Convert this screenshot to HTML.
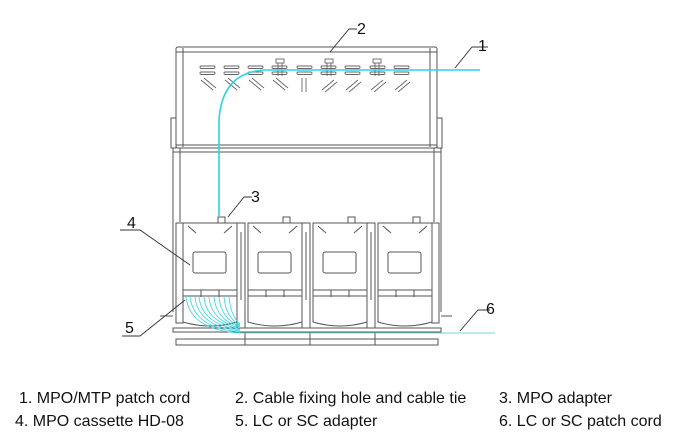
<!DOCTYPE html>
<html><head><meta charset="utf-8"><style>
html,body{margin:0;padding:0;background:#fff;}
svg{display:block}
text{font-family:"Liberation Sans",Arial,sans-serif;fill:#111}
</style></head><body>
<svg width="674" height="437" viewBox="0 0 674 437" xmlns="http://www.w3.org/2000/svg">
<g fill="none" stroke="#555" stroke-width="1">
<rect x="176" y="47" width="261" height="101" rx="2"/>
<line x1="183" y1="48" x2="183" y2="147"/>
<line x1="430" y1="48" x2="430" y2="147"/>
<line x1="176" y1="52" x2="437" y2="52"/>
<line x1="176" y1="145" x2="437" y2="145"/>
<rect x="171" y="118" width="5" height="30"/>
<rect x="437" y="118" width="5" height="30"/>
<line x1="173" y1="148" x2="173" y2="312"/>
<line x1="180" y1="148" x2="180" y2="222"/>
<line x1="441" y1="148" x2="441" y2="312"/>
<line x1="434" y1="148" x2="434" y2="222"/>
<line x1="173" y1="152" x2="441" y2="152"/>
</g>
<g fill="none" stroke="#666" stroke-width="0.9">
<g id="sl">
<rect x="200" y="66" width="15" height="2.5" rx="1.2"/>
<rect x="200" y="72" width="15" height="2.5" rx="1.2"/>
<line x1="201" y1="80" x2="213" y2="90"/><line x1="204" y1="78" x2="216" y2="88"/>
</g>
<use href="#sl" x="24"/><use href="#sl" x="48"/><use href="#sl" x="72"/>
<rect x="297" y="66" width="15" height="2.5" rx="1.2"/>
<rect x="297" y="72" width="15" height="2.5" rx="1.2"/>
<line x1="302" y1="78" x2="302" y2="92"/><line x1="306" y1="78" x2="306" y2="92"/>
<g id="sr">
<rect x="321" y="66" width="15" height="2.5" rx="1.2"/>
<rect x="321" y="72" width="15" height="2.5" rx="1.2"/>
<line x1="322" y1="90" x2="334" y2="80"/><line x1="325" y1="92" x2="337" y2="82"/>
</g>
<use href="#sr" x="24"/><use href="#sr" x="49"/><use href="#sr" x="73"/>
<g id="tie"><rect x="276" y="59" width="8" height="4"/><line x1="278" y1="63" x2="278" y2="76"/><line x1="282" y1="63" x2="282" y2="76"/></g>
<use href="#tie" x="49"/><use href="#tie" x="97"/>
</g>
<path d="M480 70 L265 70 Q222 72 219 120 L219 216" fill="none" stroke="#2dd4e0" stroke-width="1.6"/>
<g fill="none" stroke="#555" stroke-width="1">
<g id="cas">
<path d="M183 223 L237 223 L237 322 Q210 330 183 322 Z"/>
<rect x="193" y="252" width="33" height="21" rx="2"/>
<line x1="183" y1="290" x2="237" y2="290"/>
<line x1="183" y1="296" x2="237" y2="296"/>
<line x1="201" y1="290" x2="201" y2="297"/><line x1="219" y1="290" x2="219" y2="297"/>
<rect x="218" y="217" width="7" height="6"/>
<line x1="188" y1="226" x2="196" y2="233"/><line x1="232" y1="226" x2="224" y2="233"/>
</g>
<use href="#cas" x="65"/><use href="#cas" x="130"/><use href="#cas" x="195"/>
<g id="div"><rect x="237" y="223" width="8" height="105"/><line x1="241" y1="232" x2="241" y2="300"/></g>
<use href="#div" x="65"/><use href="#div" x="130"/>
<rect x="176" y="223" width="7" height="100"/>
<rect x="432" y="223" width="7" height="100"/>
<rect x="173" y="328" width="268" height="4"/>
<rect x="176" y="339" width="262" height="6"/>
<line x1="245" y1="332" x2="245" y2="345"/><line x1="310" y1="332" x2="310" y2="345"/><line x1="375" y1="332" x2="375" y2="345"/>
<line x1="160" y1="316" x2="173" y2="316"/><line x1="441" y1="316" x2="452" y2="316"/>
</g>
<g fill="none" stroke="#2dd4e0" stroke-width="0.8">
<path d="M186 297 Q190 330 240 333 L495 333"/>
<path d="M190 297 Q194 328 240 332"/>
<path d="M195 297 Q198 326 240 331"/>
<path d="M199 297 Q202 324 240 330"/>
<path d="M204 297 Q206 322 240 329"/>
<path d="M209 297 Q211 321 240 328"/>
<path d="M214 297 Q216 320 240 327"/>
<path d="M219 297 Q221 319 240 326"/>
<path d="M224 297 Q226 318 240 325"/>
<path d="M229 297 Q231 317 240 324"/>
</g>
<g fill="none" stroke="#333" stroke-width="0.9">
<polyline points="455,68 472,47 488,47"/>
<polyline points="330,52 349,29 357,29"/>
<polyline points="228,217 244,197 252,197"/>
<polyline points="120,230 140,230 190,265"/>
<polyline points="122,336 140,336 185,300"/>
<polyline points="460,331 478,310 490,310"/>
</g>
<g font-size="16">
<text x="478" y="51">1</text>
<text x="357" y="34">2</text>
<text x="251" y="202">3</text>
<text x="127" y="228">4</text>
<text x="125" y="333">5</text>
<text x="486" y="314">6</text>
</g>
<g font-size="16">
<text x="19" y="403">1.  MPO/MTP patch cord</text>
<text x="235" y="403">2. Cable fixing hole and cable tie</text>
<text x="499" y="403">3. MPO adapter</text>
<text x="15" y="426">4. MPO cassette HD-08</text>
<text x="235" y="426">5. LC or SC adapter</text>
<text x="499" y="426">6. LC or SC patch cord</text>
</g>
</svg>
</body></html>
